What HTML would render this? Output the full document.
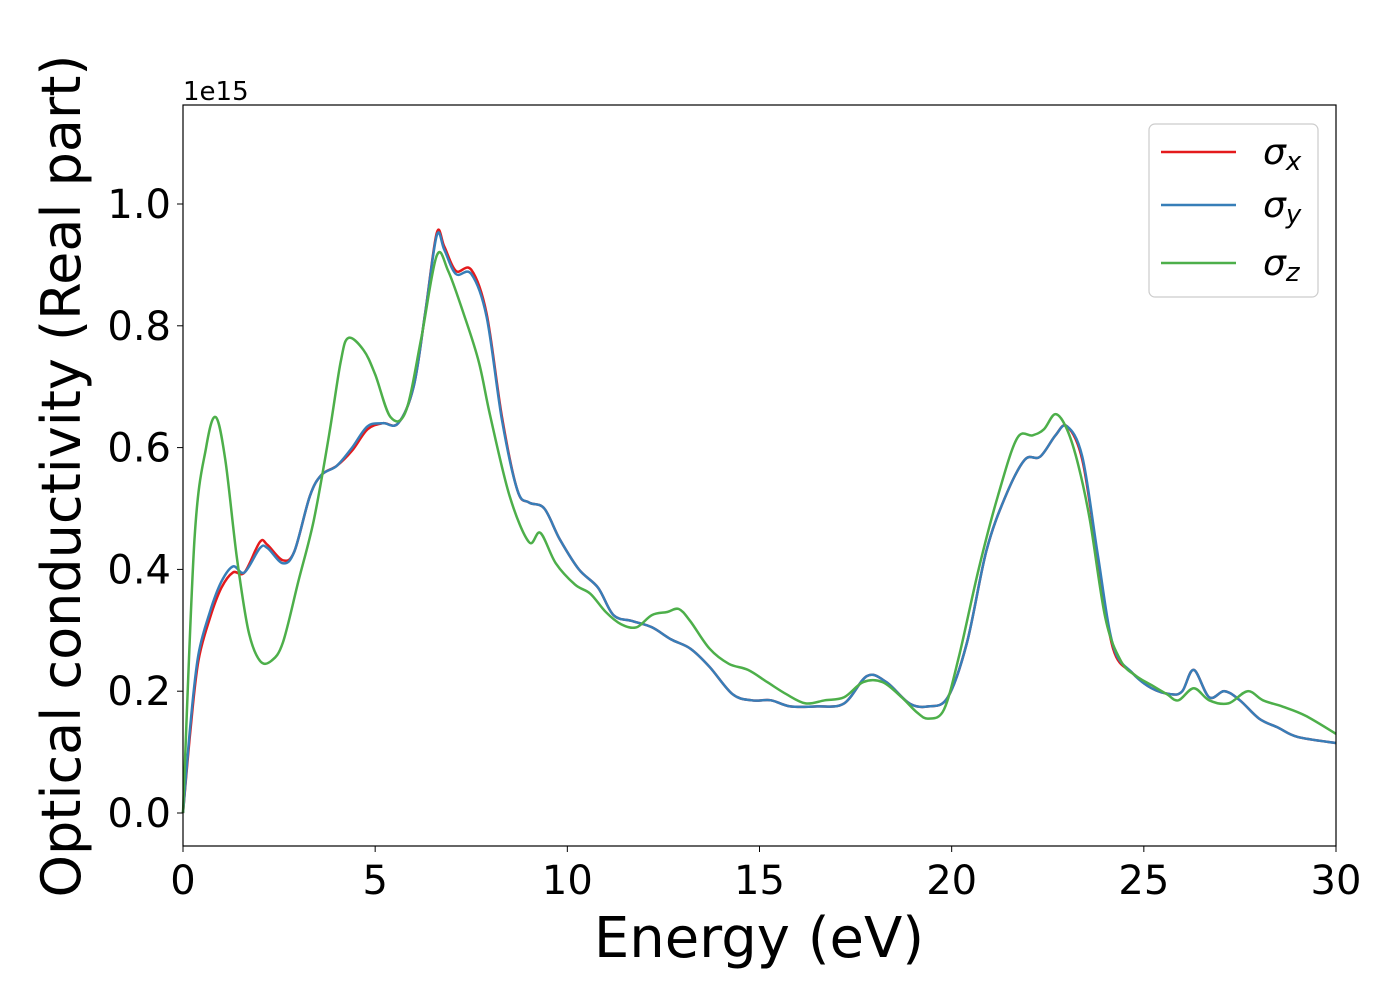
<!DOCTYPE html>
<html><head><meta charset="utf-8"><style>
body{margin:0;background:#fff;}
svg text{font-family:"DejaVu Sans","Liberation Sans",sans-serif;}
</style></head><body>
<svg id="chart" width="1400" height="1000" xmlns="http://www.w3.org/2000/svg">
<rect width="1400" height="1000" fill="#fff"/>
<g id="plot"></g>
<rect x="183" y="105" width="1153" height="741" fill="none" stroke="#000" stroke-width="1.2"/>
<g id="ticks"></g>
<text x="183" y="100" font-size="26">1e15</text>
<text x="759" y="957" font-size="56" text-anchor="middle">Energy (eV)</text>
<text transform="translate(80,476) rotate(-90)" font-size="54" text-anchor="middle">Optical conductivity (Real part)</text>
<g>
<rect x="1149" y="124" width="169" height="173" rx="6" fill="#fff" fill-opacity="0.8" stroke="#ccc" stroke-width="1.2"/>
<line x1="1161" y1="152" x2="1236" y2="152" stroke="#e41a1c" stroke-width="2.5"/>
<line x1="1161" y1="205" x2="1236" y2="205" stroke="#377eb8" stroke-width="2.5"/>
<line x1="1161" y1="263" x2="1236" y2="263" stroke="#4daf4a" stroke-width="2.5"/>
<text x="1263" y="164" font-size="36" font-style="italic">σ<tspan font-size="26" dy="6">x</tspan></text>
<text x="1263" y="217" font-size="36" font-style="italic">σ<tspan font-size="26" dy="6">y</tspan></text>
<text x="1263" y="275" font-size="36" font-style="italic">σ<tspan font-size="26" dy="6">z</tspan></text>
</g>
</svg>
<script>
const xTicks=[0,5,10,15,20,25,30];
const yTicks=[0.0,0.2,0.4,0.6,0.8,1.0];
const xsE=[0,0.2,0.4,0.7,1.0,1.3,1.6,2.0,2.2,2.6,2.9,3.3,3.6,4.0,4.4,4.8,5.2,5.6,6.0,6.3,6.6,6.8,7.1,7.5,7.9,8.3,8.7,9.0,9.4,9.8,10.3,10.8,11.2,11.7,12.2,12.7,13.2,13.7,14.3,14.8,15.3,15.8,16.5,17.2,17.8,18.3,18.9,19.4,19.9,20.4,20.9,21.4,21.9,22.3,22.7,23.0,23.4,23.8,24.2,24.7,25.2,25.7,26.0,26.3,26.7,27.1,27.5,28.0,28.5,29.0,30];
const sigmaX=[0,0.14,0.25,0.32,0.37,0.395,0.395,0.445,0.44,0.415,0.43,0.52,0.555,0.57,0.595,0.63,0.64,0.64,0.70,0.82,0.952,0.93,0.89,0.892,0.82,0.65,0.53,0.51,0.50,0.45,0.40,0.37,0.325,0.315,0.305,0.285,0.27,0.24,0.195,0.185,0.185,0.175,0.175,0.18,0.225,0.215,0.18,0.175,0.19,0.28,0.43,0.52,0.58,0.585,0.62,0.635,0.58,0.42,0.27,0.23,0.205,0.195,0.2,0.235,0.19,0.2,0.185,0.155,0.14,0.125,0.115];
const sigmaY=[0,0.15,0.26,0.33,0.38,0.405,0.395,0.435,0.435,0.41,0.43,0.52,0.555,0.57,0.60,0.635,0.64,0.64,0.70,0.82,0.948,0.925,0.885,0.885,0.815,0.645,0.53,0.51,0.50,0.45,0.40,0.37,0.325,0.315,0.305,0.285,0.27,0.24,0.195,0.185,0.185,0.175,0.175,0.18,0.225,0.215,0.18,0.175,0.19,0.28,0.43,0.52,0.58,0.585,0.62,0.635,0.585,0.425,0.275,0.23,0.205,0.195,0.2,0.235,0.19,0.2,0.185,0.155,0.14,0.125,0.115];
const xsZ=[0,0.3,0.6,0.85,1.1,1.4,1.7,2.0,2.3,2.6,3.0,3.4,3.8,4.1,4.3,4.7,5.0,5.4,5.8,6.2,6.6,6.9,7.3,7.7,8.0,8.5,9.0,9.3,9.7,10.2,10.6,11.0,11.4,11.8,12.2,12.6,12.9,13.2,13.7,14.2,14.7,15.2,15.7,16.2,16.7,17.2,17.7,18.2,18.7,19.1,19.4,19.8,20.2,20.7,21.2,21.7,22.1,22.4,22.7,23.0,23.3,23.6,24.0,24.4,24.8,25.2,25.6,25.9,26.3,26.7,27.2,27.7,28.1,28.6,29.2,30];
const sigmaZ=[0,0.45,0.60,0.65,0.58,0.42,0.30,0.25,0.25,0.28,0.38,0.48,0.62,0.74,0.78,0.76,0.72,0.65,0.66,0.78,0.915,0.89,0.82,0.74,0.65,0.52,0.445,0.46,0.41,0.375,0.36,0.33,0.31,0.305,0.325,0.33,0.335,0.315,0.27,0.245,0.235,0.215,0.195,0.18,0.185,0.19,0.215,0.215,0.19,0.165,0.155,0.17,0.26,0.40,0.52,0.615,0.62,0.63,0.655,0.63,0.57,0.48,0.32,0.25,0.225,0.21,0.195,0.185,0.205,0.185,0.18,0.2,0.185,0.175,0.16,0.13];
const NS='http://www.w3.org/2000/svg';
function sx(v){return 183+v*(1153/30);}
function sy(v){return 813-v*609;}
function pathFor(xs,ys){
  const p=xs.map((x,i)=>[sx(x),sy(ys[i])]);
  let d='M'+p[0][0].toFixed(1)+','+p[0][1].toFixed(1);
  for(let i=0;i<p.length-1;i++){
    const p0=p[Math.max(0,i-1)],p1=p[i],p2=p[i+1],p3=p[Math.min(p.length-1,i+2)];
    const c1=[p1[0]+(p2[0]-p0[0])/6,p1[1]+(p2[1]-p0[1])/6];
    const c2=[p2[0]-(p3[0]-p1[0])/6,p2[1]-(p3[1]-p1[1])/6];
    d+=' C'+c1[0].toFixed(1)+','+c1[1].toFixed(1)+' '+c2[0].toFixed(1)+','+c2[1].toFixed(1)+' '+p2[0].toFixed(1)+','+p2[1].toFixed(1);
  }
  return d;
}
const plot=document.getElementById('plot');
[[xsE,sigmaX,'#e41a1c','series-sigma-x'],[xsE,sigmaY,'#377eb8','series-sigma-y'],[xsZ,sigmaZ,'#4daf4a','series-sigma-z']].forEach(s=>{
  const el=document.createElementNS(NS,'path');
  el.setAttribute('d',pathFor(s[0],s[1]));
  el.setAttribute('fill','none');el.setAttribute('stroke',s[2]);el.setAttribute('stroke-width','2.5');
  
  
  plot.appendChild(el);
});
const tk=document.getElementById('ticks');
xTicks.forEach(v=>{
  const l=document.createElementNS(NS,'line');
  l.setAttribute('x1',sx(v));l.setAttribute('x2',sx(v));l.setAttribute('y1',846);l.setAttribute('y2',852);l.setAttribute('stroke','#000');
  
  
  tk.appendChild(l);
  const t=document.createElementNS(NS,'text');
  t.setAttribute('x',sx(v));t.setAttribute('y',894);t.setAttribute('font-size','40');t.setAttribute('text-anchor','middle');
  t.textContent=v;
  
  
  tk.appendChild(t);
});
yTicks.forEach(v=>{
  const l=document.createElementNS(NS,'line');
  l.setAttribute('x1',177);l.setAttribute('x2',183);l.setAttribute('y1',sy(v));l.setAttribute('y2',sy(v));l.setAttribute('stroke','#000');
  
  
  tk.appendChild(l);
  const t=document.createElementNS(NS,'text');
  t.setAttribute('x',171);t.setAttribute('y',sy(v)+14);t.setAttribute('font-size','40');t.setAttribute('text-anchor','end');
  t.textContent=v.toFixed(1);
  
  
  tk.appendChild(t);
});
</script>
</body></html>
